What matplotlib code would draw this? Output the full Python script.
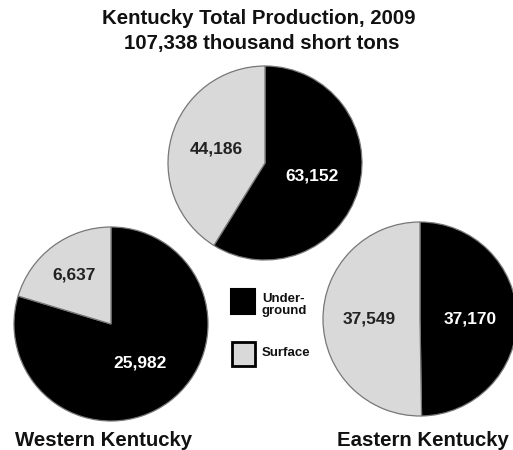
import numpy as np
import matplotlib.pyplot as plt
from matplotlib.patches import Rectangle

plt.rcParams['font.family'] = ['Liberation Sans', 'DejaVu Sans']

# coal production, thousand short tons (underground, surface)
regions = ['Kentucky Total', 'Western Kentucky', 'Eastern Kentucky']
underground = [63152, 25982, 37170]
surface = [44186, 6637, 37549]
categories = ['Under-\nground', 'Surface']
colors = ['#000000', '#d9d9d9']

fig = plt.figure(figsize=(5.13, 4.5), dpi=100)
ax = fig.add_axes([0, 0, 1, 1])

# pie layout in pixel units (y up)
centers = [(265, 287), (111, 126), (420, 131)]
radius = 97
labdist = [[0.5, 0.52], [0.5, 0.63], [0.52, 0.52]]

for i in range(3):
    vals = [underground[i], surface[i]]
    wedges, _ = ax.pie(
        vals, colors=colors, startangle=90, counterclock=False,
        center=centers[i], radius=radius,
        wedgeprops=dict(edgecolor='#777777', linewidth=0.9))
    for j, w in enumerate(wedges):
        ang = np.deg2rad((w.theta1 + w.theta2) / 2)
        d = labdist[i][j] * radius
        ax.text(centers[i][0] + d * np.cos(ang), centers[i][1] + d * np.sin(ang),
                f"{vals[j]:,}", ha='center', va='center', fontsize=12.5,
                fontweight='bold', color='white' if j == 0 else '#222222')

ax.set_xlim(0, 513)
ax.set_ylim(0, 450)
ax.set_aspect('equal')
ax.axis('off')

# title
ax.text(259, 432, 'Kentucky Total Production, 2009', ha='center', va='center',
        fontsize=14.7, fontweight='bold', color='#111111')
ax.text(262, 407, f"{underground[0] + surface[0]:,} thousand short tons",
        ha='center', va='center', fontsize=14.7, fontweight='bold', color='#111111')

# region labels
ax.text(104, 9, 'Western Kentucky', ha='center', va='center', fontsize=14.7,
        fontweight='bold', color='#111111')
ax.text(423, 9, 'Eastern Kentucky', ha='center', va='center', fontsize=14.7,
        fontweight='bold', color='#111111')

# legend
ax.add_patch(Rectangle((231, 136), 24, 25, facecolor=colors[0], edgecolor='black', lw=1.5))
ax.add_patch(Rectangle((232, 84), 23, 24, facecolor=colors[1], edgecolor='black', lw=2))
ax.text(262, 145, categories[0], ha='left', va='center', fontsize=9.5, fontweight='bold',
        linespacing=1.05, color='#111111')
ax.text(262, 97, categories[1], ha='left', va='center', fontsize=9.5, fontweight='bold',
        color='#111111')

fig.savefig('out.png', dpi=100)
